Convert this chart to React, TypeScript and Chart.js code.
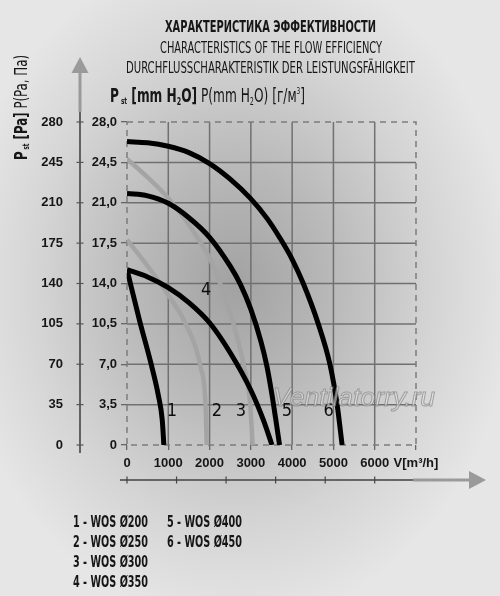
import React, { useEffect, useRef } from "react";
import { Chart, registerables } from "chart.js";

Chart.register(...registerables);

// ---------- data ----------
const seriesNames = [
  "1 - WOS Ø200",
  "2 - WOS Ø250",
  "3 - WOS Ø300",
  "4 - WOS Ø350",
  "5 - WOS Ø400",
  "6 - WOS Ø450",
];
const curveNumbers = ["1", "2", "3", "4", "5", "6"];

const flow1 = [0, 300, 600, 757, 854, 893];
const pres1 = [15.2, 10.85, 6.8, 4.34, 2.17, 0];

const flow2 = [0, 500, 1000, 1450, 1780, 1905, 1930];
const pres2 = [17.8, 15.5, 13.0, 10.3, 6.8, 3.3, 0];

const flow3 = [0, 500, 1000, 1400, 1772, 2000, 2257, 2580, 2823, 2985, 3042];
const pres3 = [24.8, 23.2, 21.4, 19.6, 17.6, 16.2, 14.0, 10.5, 7.0, 3.5, 0];

const flow4 = [0, 500, 1000, 1500, 2000, 2500, 3000, 3300, 3512];
const pres4 = [15.2, 14.57, 13.65, 12.35, 10.6, 8.0, 4.75, 2.2, 0];

const flow5 = [0, 500, 1000, 1500, 2000, 2500, 2750, 3000, 3250, 3390, 3500, 3600, 3695];
const pres5 = [21.8, 21.6, 20.95, 19.7, 18.0, 15.5, 13.9, 11.75, 8.9, 6.8, 4.6, 2.3, 0];

const flow6 = [0, 500, 1000, 1500, 2000, 2500, 2985, 3400, 3745, 4000, 4270, 4633, 4915, 5090, 5210];
const pres6 = [26.3, 26.2, 25.9, 25.35, 24.4, 23.05, 21.4, 19.6, 17.7, 16.1, 14.0, 10.5, 7.0, 3.5, 0];

const flows = [flow1, flow2, flow3, flow4, flow5, flow6];
const pressures = [pres1, pres2, pres3, pres4, pres5, pres6];
const isGray = [false, true, true, false, false, false];

// curve number label anchors (flow, mm H2O)
const labelFlow = [1085, 2177, 2760, 1917, 3876, 4886];
const labelPres = [2.9, 2.9, 2.9, 13.4, 2.9, 2.9];

// ticks of the lower decorative flow arrow (m3/h)
const arrowTicks = [0, 1200, 2400, 3600, 4800, 6000];

const titleLines = [
  "ХАРАКТЕРИСТИКА ЭФФЕКТИВНОСТИ",
  "CHARACTERISTICS OF THE FLOW EFFICIENCY",
  "DURCHFLUSSCHARAKTERISTIK DER LEISTUNGSFÄHIGKEIT",
];
const xUnitLabel = "V[m³/h]";
const watermark = "Ventilatorry.ru";

// ---------- helpers ----------
const FONT =
  "'Liberation Sans Narrow', 'DejaVu Sans Condensed', 'Liberation Sans', sans-serif";
const TICK_FONT = "'Liberation Sans', Arial, sans-serif";
const TEXT = "#161616";

type Run = { t: string; b?: boolean; s: number; dy?: number };

function setFont(ctx: CanvasRenderingContext2D, r: Run) {
  ctx.font = `${r.b ? "bold " : ""}${r.s}px ${FONT}`;
}
function runsWidth(ctx: CanvasRenderingContext2D, runs: Run[]) {
  let w = 0;
  for (const r of runs) {
    setFont(ctx, r);
    w += ctx.measureText(r.t).width;
  }
  return w;
}
function drawRuns(
  ctx: CanvasRenderingContext2D,
  runs: Run[],
  x: number,
  y: number,
  targetW?: number
) {
  const w = runsWidth(ctx, runs);
  const sx = targetW ? targetW / w : 1;
  ctx.save();
  ctx.translate(x, y);
  ctx.scale(sx, 1);
  ctx.textAlign = "left";
  ctx.textBaseline = "alphabetic";
  let cx = 0;
  for (const r of runs) {
    setFont(ctx, r);
    ctx.fillText(r.t, cx, r.dy || 0);
    cx += ctx.measureText(r.t).width;
  }
  ctx.restore();
}

const decorPlugin = {
  id: "decor",
  beforeDatasetsDraw(chart: any) {
    const { ctx, chartArea } = chart;
    const { left, right, top, bottom } = chartArea;
    const xs = chart.scales.x;
    const ys = chart.scales.y;
    ctx.save();
    ctx.strokeStyle = "#707070";
    ctx.lineWidth = 1.5;
    for (const t of xs.ticks) {
      if (t.value <= xs.min || t.value >= xs.max) continue;
      const px = xs.getPixelForValue(t.value);
      ctx.beginPath();
      ctx.moveTo(px, top);
      ctx.lineTo(px, bottom);
      ctx.stroke();
    }
    for (const t of ys.ticks) {
      if (t.value <= ys.min || t.value >= ys.max) continue;
      const py = ys.getPixelForValue(t.value);
      ctx.beginPath();
      ctx.moveTo(left, py);
      ctx.lineTo(right, py);
      ctx.stroke();
    }
    ctx.setLineDash([6, 5]);
    ctx.strokeStyle = "#7c7c7c";
    ctx.strokeRect(left, top, right - left, bottom - top);
    ctx.restore();
  },
  afterDatasetsDraw(chart: any) {
    const { ctx } = chart;
    const xs = chart.scales.x;
    const ys = chart.scales.y;
    ctx.save();
    // curve numbers
    ctx.fillStyle = "#0d0d0d";
    ctx.font = `18px ${FONT}`;
    ctx.textAlign = "center";
    ctx.textBaseline = "middle";
    curveNumbers.forEach((n, i) => {
      ctx.fillText(n, xs.getPixelForValue(labelFlow[i]), ys.getPixelForValue(labelPres[i]));
    });
    // watermark
    ctx.font = `italic 26px 'Liberation Sans', sans-serif`;
    const ww = ctx.measureText(watermark).width;
    ctx.translate(273, 406);
    ctx.scale(162 / ww, 1);
    ctx.textAlign = "left";
    ctx.textBaseline = "alphabetic";
    ctx.fillStyle = "rgba(228,228,228,0.6)";
    ctx.fillText(watermark, 0, 0);
    ctx.strokeStyle = "rgba(120,120,120,0.6)";
    ctx.lineWidth = 1;
    ctx.strokeText(watermark, 0, 0);
    ctx.restore();
  },
  afterDraw(chart: any) {
    const { ctx } = chart;
    const xs = chart.scales.x;
    const y2 = chart.scales.y2;
    ctx.save();
    ctx.fillStyle = TEXT;

    // titles
    drawRuns(ctx, [{ t: titleLines[0], b: true, s: 15 }], 165, 32, 211);
    drawRuns(ctx, [{ t: titleLines[1], s: 16 }], 160, 52.5, 222);
    drawRuns(ctx, [{ t: titleLines[2], s: 16 }], 126, 73, 289);

    // unit header
    drawRuns(
      ctx,
      [
        { t: "P", b: true, s: 19 },
        { t: " st", b: true, s: 9, dy: 2 },
        { t: " [mm H", b: true, s: 19 },
        { t: "2", b: true, s: 10, dy: 3 },
        { t: "O]", b: true, s: 19 },
        { t: " P(mm H", s: 19 },
        { t: "2", s: 10, dy: 3 },
        { t: "O) [г/м", s: 19 },
        { t: "3", s: 9, dy: -8 },
        { t: "]", s: 19 },
      ],
      110,
      102,
      195
    );

    // rotated left title
    ctx.save();
    ctx.translate(27, 160);
    ctx.rotate(-Math.PI / 2);
    drawRuns(
      ctx,
      [
        { t: "P", b: true, s: 17 },
        { t: " st", b: true, s: 8, dy: 2 },
        { t: " [Pa]", b: true, s: 17 },
        { t: " P(Pa, Па)", s: 17 },
      ],
      0,
      0,
      105
    );
    ctx.restore();

    // vertical arrow (Pa axis)
    const ax = y2.right;
    ctx.strokeStyle = "#9a9a9a";
    ctx.lineWidth = 3;
    ctx.beginPath();
    ctx.moveTo(ax, 72);
    ctx.lineTo(ax, 112);
    ctx.stroke();
    ctx.fillStyle = "#9a9a9a";
    ctx.beginPath();
    ctx.moveTo(ax, 57);
    ctx.lineTo(ax - 8.5, 73);
    ctx.lineTo(ax + 8.5, 73);
    ctx.closePath();
    ctx.fill();
    ctx.strokeStyle = "#555";
    ctx.lineWidth = 1.8;
    ctx.beginPath();
    ctx.moveTo(ax, 112);
    ctx.lineTo(ax, 453);
    ctx.stroke();
    ctx.lineWidth = 1.2;
    for (const t of y2.ticks) {
      const py = y2.getPixelForValue(t.value);
      ctx.beginPath();
      ctx.moveTo(ax - 3.5, py);
      ctx.lineTo(ax + 3.5, py);
      ctx.stroke();
    }

    // horizontal arrow (flow)
    const ay = 480;
    ctx.strokeStyle = "#666";
    ctx.lineWidth = 2;
    ctx.beginPath();
    ctx.moveTo(120, ay);
    ctx.lineTo(413, ay);
    ctx.stroke();
    ctx.strokeStyle = "#9a9a9a";
    ctx.lineWidth = 3;
    ctx.beginPath();
    ctx.moveTo(413, ay);
    ctx.lineTo(470, ay);
    ctx.stroke();
    ctx.fillStyle = "#9a9a9a";
    ctx.beginPath();
    ctx.moveTo(486, ay);
    ctx.lineTo(469, ay - 9);
    ctx.lineTo(469, ay + 9);
    ctx.closePath();
    ctx.fill();
    ctx.strokeStyle = "#444";
    ctx.lineWidth = 1.2;
    for (const v of arrowTicks) {
      const px = xs.getPixelForValue(v);
      ctx.beginPath();
      ctx.moveTo(px, ay - 3.5);
      ctx.lineTo(px, ay + 3.5);
      ctx.stroke();
    }

    // legend
    ctx.fillStyle = TEXT;
    ctx.font = `bold 15px ${FONT}`;
    const lw = ctx.measureText(seriesNames[0]).width;
    const lsx = 75 / lw;
    seriesNames.forEach((name, i) => {
      const col = i < 4 ? 0 : 1;
      const row = i < 4 ? i : i - 4;
      ctx.save();
      ctx.translate(col === 0 ? 73 : 167, 527 + row * 20);
      ctx.scale(lsx, 1);
      ctx.textAlign = "left";
      ctx.textBaseline = "alphabetic";
      ctx.fillText(name, 0, 0);
      ctx.restore();
    });
    ctx.restore();
  },
};

export default function App() {
  const ref = useRef<HTMLCanvasElement | null>(null);

  useEffect(() => {
    if (!ref.current) return;
    const datasets = flows.map((f, i) => ({
      label: seriesNames[i],
      data: f.map((x, k) => ({ x, y: pressures[i][k] })),
      borderColor: isGray[i] ? "#a4a4a4" : "#000000",
      borderWidth: isGray[i] ? 4.5 : 5,
      pointRadius: 0,
      fill: false,
      cubicInterpolationMode: "monotone" as const,
      order: isGray[i] ? 1 : 0,
    }));
    const tickFont = { family: TICK_FONT, size: 13, weight: "bold" as const };
    const chart = new Chart(ref.current, {
      type: "line",
      data: { datasets },
      options: {
        animation: false,
        responsive: false,
        layout: { padding: { top: 122, bottom: 121, left: 0, right: 84 } },
        plugins: {
          legend: { display: false },
          tooltip: { enabled: false },
          title: { display: false },
        },
        scales: {
          x: {
            type: "linear",
            min: 0,
            max: 7000,
            ticks: {
              stepSize: 1000,
              color: TEXT,
              font: tickFont,
              padding: 6,
              maxRotation: 0,
              autoSkip: false,
              callback: (v: any) => (Number(v) === 7000 ? xUnitLabel : String(v)),
            },
            grid: { drawOnChartArea: false, drawTicks: true, tickLength: 5, color: "#666", lineWidth: 1.3 },
            border: { display: false },
            afterFit: (s: any) => {
              s.height = 30;
            },
          },
          y: {
            type: "linear",
            position: "left",
            weight: 0,
            min: 0,
            max: 28,
            ticks: {
              stepSize: 3.5,
              color: TEXT,
              font: tickFont,
              padding: 4,
              callback: (v: any) => (Number(v) === 0 ? "0" : Number(v).toFixed(1).replace(".", ",")),
            },
            grid: { drawOnChartArea: false, drawTicks: true, tickLength: 6, color: "#666", lineWidth: 1.3 },
            border: { display: false },
            afterFit: (s: any) => {
              s.width = 47;
            },
          },
          y2: {
            type: "linear",
            position: "left",
            weight: 1,
            min: 0,
            max: 280,
            ticks: { stepSize: 35, color: TEXT, font: tickFont, padding: 17 },
            grid: { display: false, drawTicks: false, drawOnChartArea: false },
            border: { display: false },
            afterFit: (s: any) => {
              s.width = 80;
            },
          },
        },
      },
      plugins: [decorPlugin],
    } as any);
    return () => chart.destroy();
  }, []);

  return (
    <div
      style={{
        position: "absolute",
        left: 0,
        top: 0,
        width: 500,
        height: 596,
        background:
          "radial-gradient(ellipse 280px 340px at 235px 285px, #a2a2a2 0%, #b9b9b9 35%, #d4d4d4 70%, #e6e6e6 100%)",
      }}
    >
      <canvas ref={ref} width={500} height={596} style={{ display: "block" }} />
    </div>
  );
}
